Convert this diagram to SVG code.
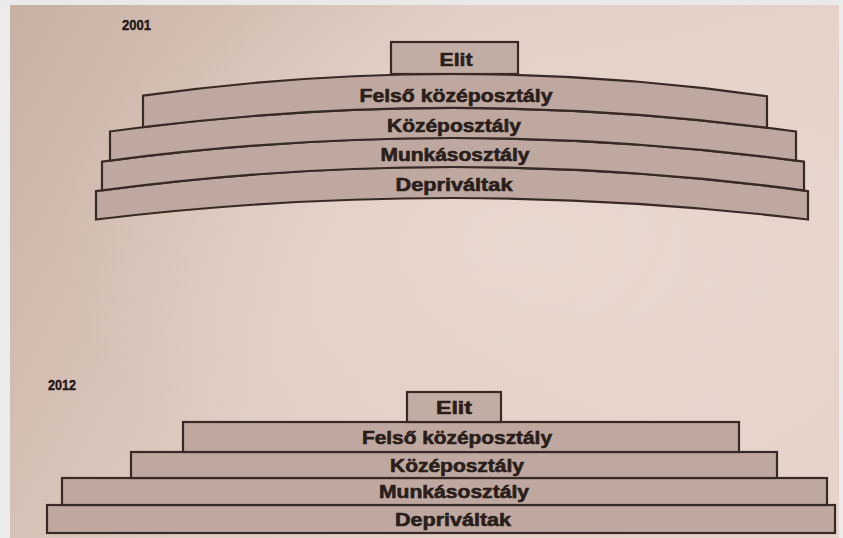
<svg xmlns="http://www.w3.org/2000/svg" width="843" height="538" viewBox="0 0 843 538">
<defs>
<linearGradient id="bg" x1="0" y1="0" x2="1" y2="0.35">
<stop offset="0" stop-color="#c7afa2"/>
<stop offset="0.5" stop-color="#e0ccc2"/>
<stop offset="1" stop-color="#e6d4cb"/>
</linearGradient>
<radialGradient id="glow" cx="0.62" cy="0.45" r="0.55">
<stop offset="0" stop-color="#ecdcd3" stop-opacity="0.7"/>
<stop offset="1" stop-color="#ecdcd3" stop-opacity="0"/>
</radialGradient>
</defs>
<style>
.band{fill:#bea89f;stroke:#3a2a26;stroke-width:2.2;stroke-linejoin:miter}
.elit{fill:#c2ada4;stroke:#3a2a26;stroke-width:2.2}
.lbl{font-family:"Liberation Sans",Arial,sans-serif;font-weight:bold;font-size:18px;fill:#2a1e1b;stroke:#2a1e1b;stroke-width:0.6;text-anchor:middle}
.year{font-family:"Liberation Sans",Arial,sans-serif;font-weight:bold;font-size:15px;fill:#231917;stroke:#231917;stroke-width:0.4}
</style>
<rect x="0" y="0" width="843" height="538" fill="url(#bg)"/>
<rect x="0" y="0" width="843" height="538" fill="url(#glow)"/>
<rect x="0" y="0" width="10" height="538" fill="#ebebeb"/>
<rect x="0" y="0" width="843" height="5" fill="#e9e9e9"/>
<rect x="839" y="0" width="4" height="538" fill="#ebebeb"/>

<text class="year" x="122" y="30" textLength="29" lengthAdjust="spacingAndGlyphs">2001</text>
<text class="year" x="48" y="390" textLength="28" lengthAdjust="spacingAndGlyphs">2012</text>

<g id="c2001">
<g id="n2001-depr">
<path class="band" d="M96,191.1 Q452,142.9 808,191.1 L808,219.5 Q452,176.5 96,219.5 Z"/>
<text class="lbl" x="454" y="191" textLength="117" lengthAdjust="spacingAndGlyphs">Depriváltak</text>
</g>
<g id="n2001-munkas">
<path class="band" d="M102,161.7 Q453,114.3 804,161.7 L804,190.4 Q453,143.6 102,190.4 Z"/>
<text class="lbl" x="455" y="161" textLength="149" lengthAdjust="spacingAndGlyphs">Munkásosztály</text>
</g>
<g id="n2001-kozep">
<path class="band" d="M110,131.5 Q453,84.5 796,131.5 L796,160.6 Q453,115.4 110,160.6 Z"/>
<text class="lbl" x="454" y="132" textLength="134" lengthAdjust="spacingAndGlyphs">Középosztály</text>
</g>
<g id="n2001-felso">
<path class="band" d="M143,95.7 Q455,52 767,96.3 L767,127.7 Q455,88.5 143,127.2 Z"/>
<text class="lbl" x="456" y="102" textLength="193" lengthAdjust="spacingAndGlyphs">Felső középosztály</text>
</g>
<g id="n2001-elit">
<rect class="elit" x="391" y="42" width="127" height="32"/>
<text class="lbl" x="456" y="66" textLength="33" lengthAdjust="spacingAndGlyphs">Elit</text>
</g>
</g>

<g id="c2012">
<g id="n2012-depr">
<rect class="band" x="47" y="505" width="788" height="28"/>
<text class="lbl" x="453" y="526" textLength="116" lengthAdjust="spacingAndGlyphs">Depriváltak</text>
</g>
<g id="n2012-munkas">
<rect class="band" x="62" y="478" width="765" height="27"/>
<text class="lbl" x="454" y="498" textLength="150" lengthAdjust="spacingAndGlyphs">Munkásosztály</text>
</g>
<g id="n2012-kozep">
<rect class="band" x="131" y="452" width="646" height="26"/>
<text class="lbl" x="457" y="472" textLength="134" lengthAdjust="spacingAndGlyphs">Középosztály</text>
</g>
<g id="n2012-felso">
<rect class="band" x="183" y="422" width="556" height="30"/>
<text class="lbl" x="457" y="444" textLength="190" lengthAdjust="spacingAndGlyphs">Felső középosztály</text>
</g>
<g id="n2012-elit">
<rect class="elit" x="407" y="392" width="94" height="30"/>
<text class="lbl" x="454" y="414" textLength="36" lengthAdjust="spacingAndGlyphs">Elit</text>
</g>
</g>

<g id="connectors"/>
</svg>
